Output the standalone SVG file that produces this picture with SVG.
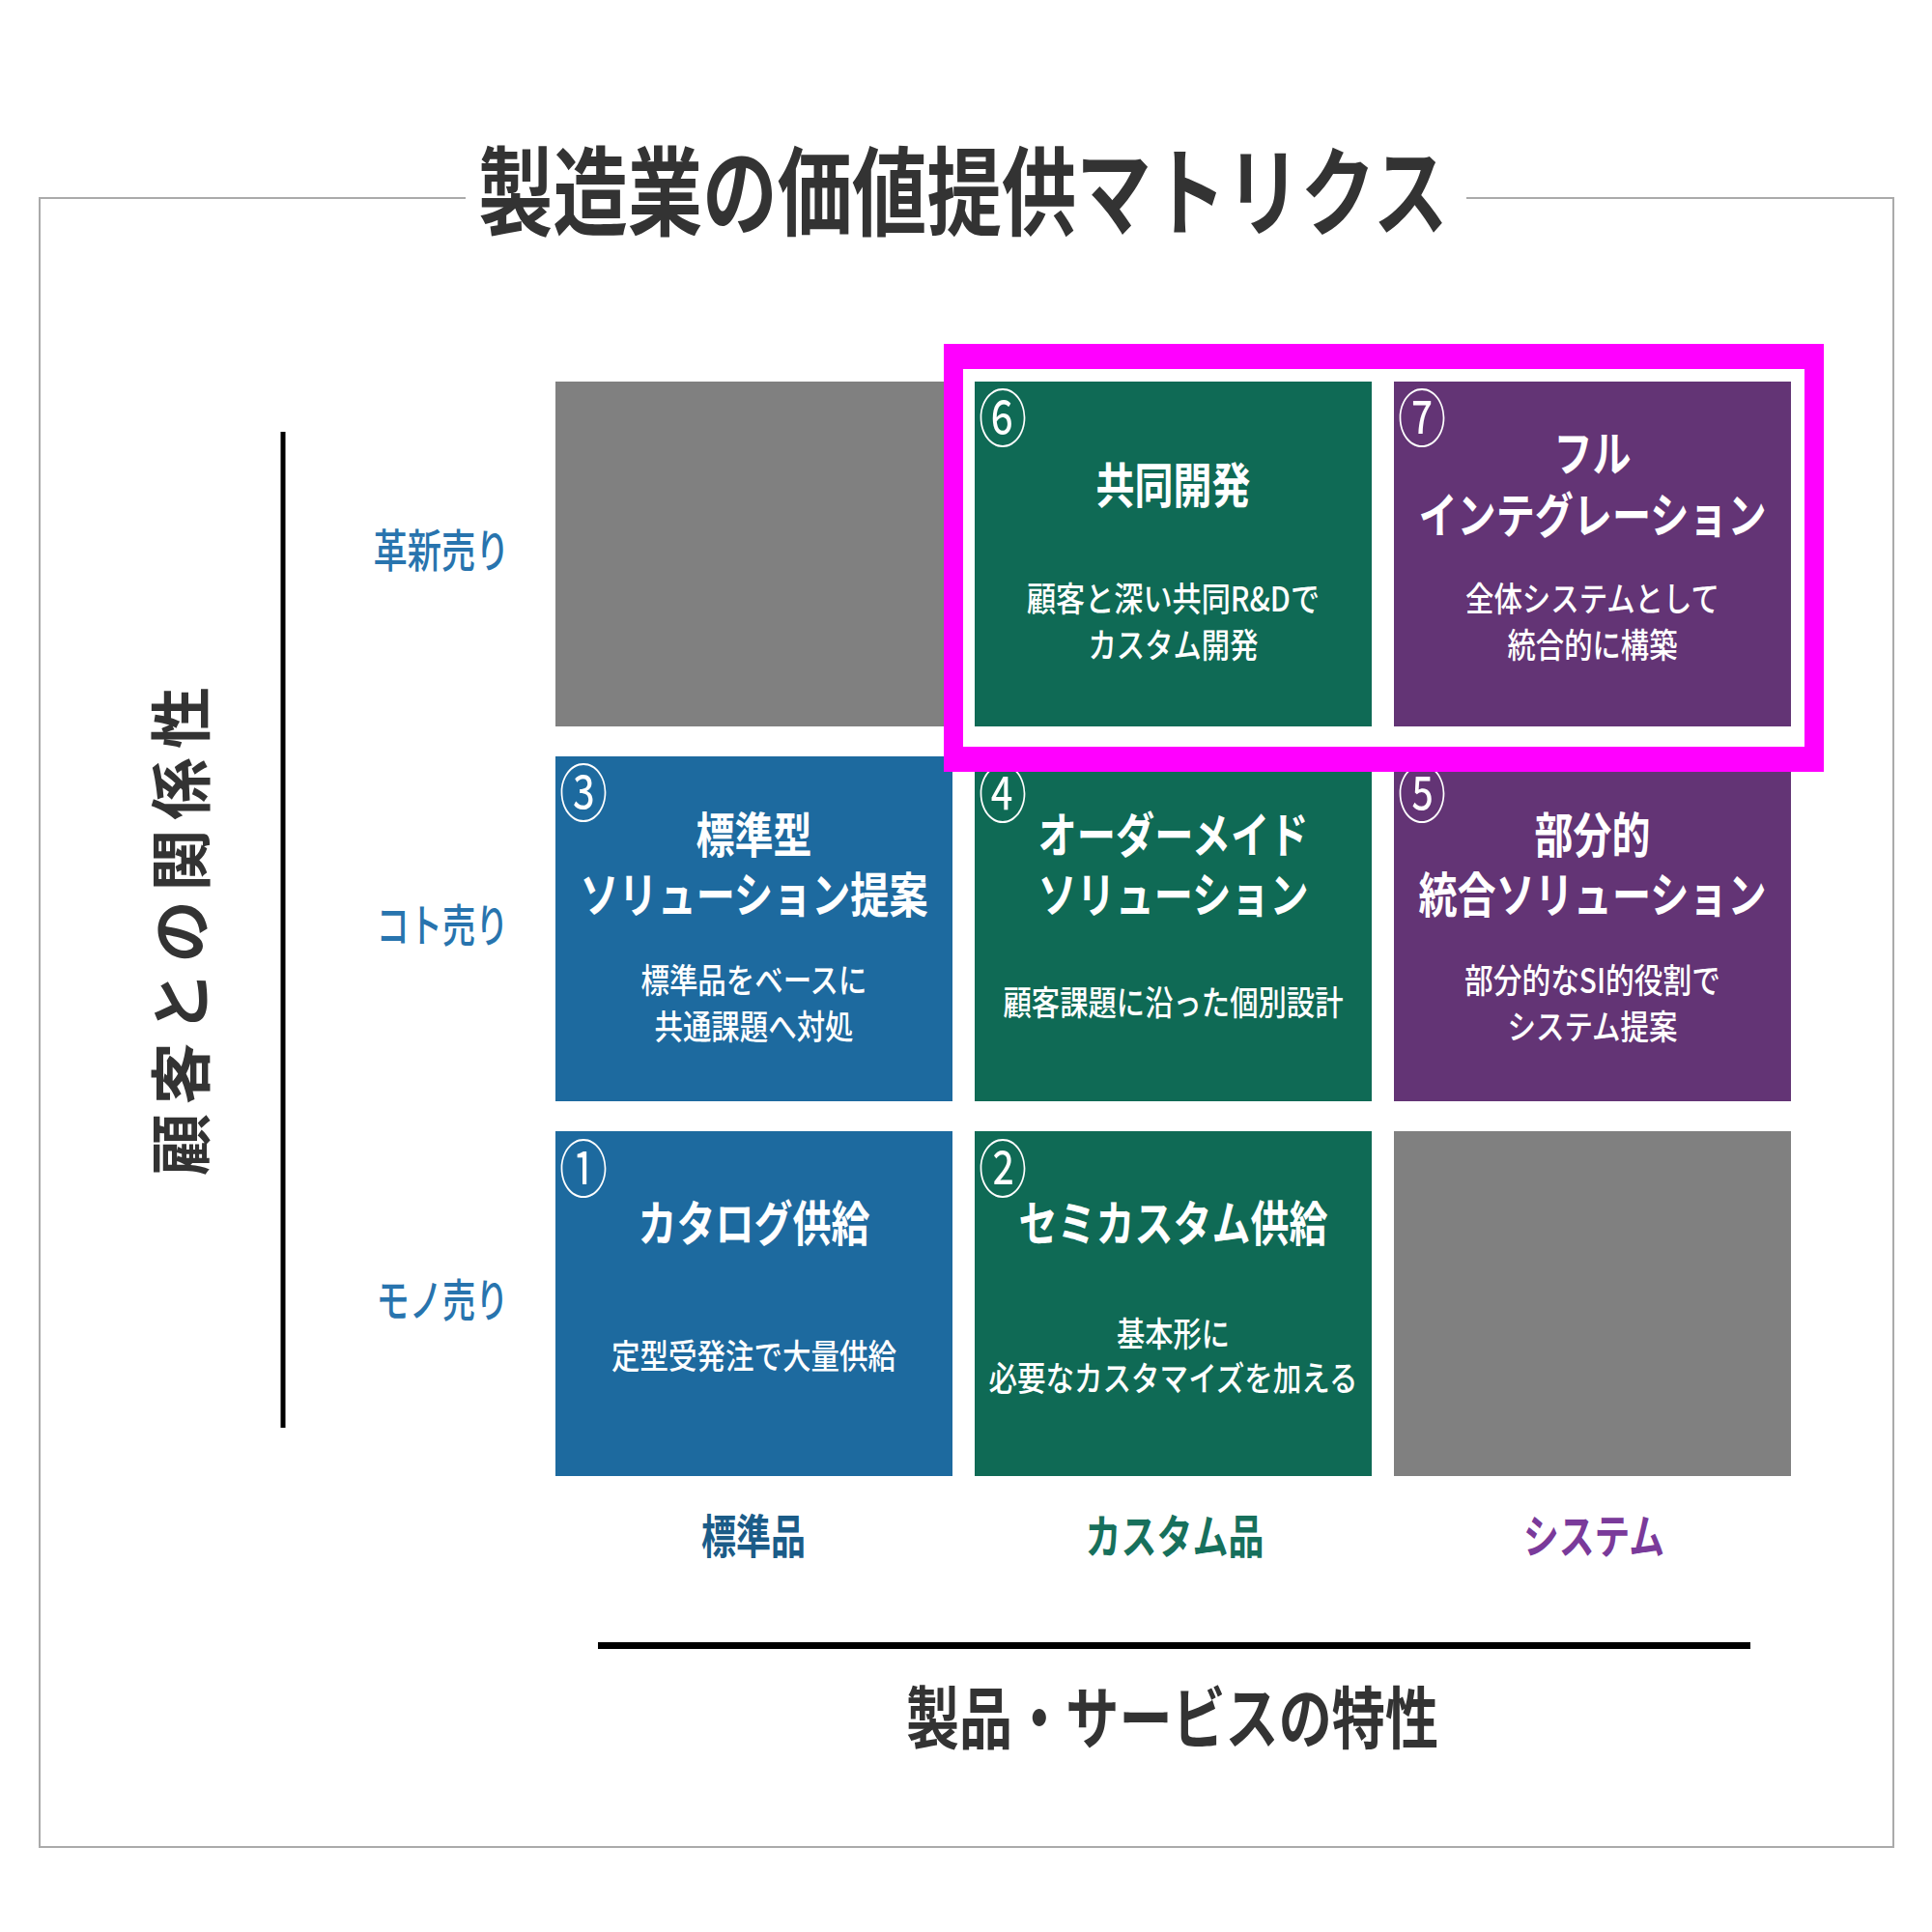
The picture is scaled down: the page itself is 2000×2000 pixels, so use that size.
<svg xmlns="http://www.w3.org/2000/svg" width="2000" height="2000" viewBox="0 0 2000 2000">
<style>
.jp{font-family:"Noto Sans CJK JP","Noto Sans CJK SC",sans-serif;}
.ttl{font-size:100px;font-weight:700;fill:#333333;}
.axt{font-size:70px;font-weight:700;fill:#333333;}
.axl{font-size:64px;font-weight:700;fill:#333333;}
.row{font-size:47px;font-weight:500;fill:#2874AE;}
.colb{font-size:48px;font-weight:700;}
.hd{font-size:50px;font-weight:700;fill:#ffffff;text-anchor:middle;}
.sb{font-size:35px;font-weight:500;fill:#ffffff;text-anchor:middle;}
.num{font-size:65px;font-weight:400;fill:#ffffff;}
.blue{fill:#1D6A9F;}
.green{fill:#0F6A55;}
.purple{fill:#633475;}
.gray{fill:#808080;}
</style>
<rect x="0" y="0" width="2000" height="2000" fill="#ffffff"/>
<g id="frame">
<polyline points="482,205 41,205 41,1912 1960,1912 1960,205 1518,205" fill="none" stroke="#aaaaaa" stroke-width="2"/>
</g>
<g id="title">
<text class="jp ttl" x="997" y="236" text-anchor="middle" textLength="1004" lengthAdjust="spacingAndGlyphs">製造業の価値提供マトリクス</text>
</g>
<g id="axes">
<line x1="293" y1="447" x2="293" y2="1478" stroke="#000000" stroke-width="5"/>
<line x1="619" y1="1703.5" x2="1812" y2="1703.5" stroke="#000000" stroke-width="7"/>
</g>
<g id="y-axis-title">
<text class="jp axl" transform="translate(211,964) rotate(-90)" x="0" y="0" text-anchor="middle" textLength="506" lengthAdjust="spacing">顧客との関係性</text>
</g>
<g id="x-axis-title">
<text class="jp axt" x="938" y="1805" textLength="551" lengthAdjust="spacingAndGlyphs">製品・サービスの特性</text>
</g>
<g id="row-labels">
<text class="jp row" x="457" y="587" text-anchor="middle" textLength="141" lengthAdjust="spacingAndGlyphs">革新売り</text>
<text class="jp row" x="458" y="975" text-anchor="middle" textLength="137" lengthAdjust="spacingAndGlyphs">コト売り</text>
<text class="jp row" x="458" y="1363" text-anchor="middle" textLength="137" lengthAdjust="spacingAndGlyphs">モノ売り</text>
</g>
<g id="col-labels">
<text class="jp colb" x="780" y="1608" text-anchor="middle" fill="#1B5C88" textLength="108" lengthAdjust="spacingAndGlyphs">標準品</text>
<text class="jp colb" x="1216" y="1608" text-anchor="middle" fill="#17705C" textLength="185" lengthAdjust="spacingAndGlyphs">カスタム品</text>
<text class="jp colb" x="1650" y="1608" text-anchor="middle" fill="#7A3A9A" textLength="146" lengthAdjust="spacingAndGlyphs">システム</text>
</g>
<g id="cell-empty-top">
<rect class="gray" x="575" y="395" width="411" height="357"/>
</g>
<g id="cell-empty-bottom">
<rect class="gray" x="1443" y="1171" width="411" height="357"/>
</g>
<g id="node-1">
<rect class="blue" x="575" y="1171" width="411" height="357"/>
<text class="jp num" x="579" y="1234" textLength="50" lengthAdjust="spacingAndGlyphs">①</text>
<text class="jp hd" x="780.5" y="1285" textLength="240" lengthAdjust="spacingAndGlyphs">カタログ供給</text>
<text class="jp sb" x="780.5" y="1417" textLength="295" lengthAdjust="spacingAndGlyphs">定型受発注で大量供給</text>
</g>
<g id="node-2">
<rect class="green" x="1009" y="1171" width="411" height="357"/>
<text class="jp num" x="1013" y="1234" textLength="50" lengthAdjust="spacingAndGlyphs">②</text>
<text class="jp hd" x="1214.5" y="1285" textLength="320" lengthAdjust="spacingAndGlyphs">セミカスタム供給</text>
<text class="jp sb" x="1214.5" y="1394" textLength="117" lengthAdjust="spacingAndGlyphs">基本形に</text>
<text class="jp sb" x="1214.5" y="1440" textLength="382" lengthAdjust="spacingAndGlyphs">必要なカスタマイズを加える</text>
</g>
<g id="node-3">
<rect class="blue" x="575" y="783" width="411" height="357"/>
<text class="jp num" x="579" y="845" textLength="50" lengthAdjust="spacingAndGlyphs">③</text>
<text class="jp hd" x="780.5" y="883" textLength="120" lengthAdjust="spacingAndGlyphs">標準型</text>
<text class="jp hd" x="780.5" y="945" textLength="360" lengthAdjust="spacingAndGlyphs">ソリューション提案</text>
<text class="jp sb" x="780.5" y="1028" textLength="234" lengthAdjust="spacingAndGlyphs">標準品をベースに</text>
<text class="jp sb" x="780.5" y="1076" textLength="206" lengthAdjust="spacingAndGlyphs">共通課題へ対処</text>
</g>
<g id="node-4">
<rect class="green" x="1009" y="783" width="411" height="357"/>
<text class="jp num" x="1013" y="846" textLength="50" lengthAdjust="spacingAndGlyphs">④</text>
<text class="jp hd" x="1214.5" y="883" textLength="280" lengthAdjust="spacingAndGlyphs">オーダーメイド</text>
<text class="jp hd" x="1214.5" y="945" textLength="280" lengthAdjust="spacingAndGlyphs">ソリューション</text>
<text class="jp sb" x="1214.5" y="1051" textLength="352" lengthAdjust="spacingAndGlyphs">顧客課題に沿った個別設計</text>
</g>
<g id="node-5">
<rect class="purple" x="1443" y="783" width="411" height="357"/>
<text class="jp num" x="1447" y="846" textLength="50" lengthAdjust="spacingAndGlyphs">⑤</text>
<text class="jp hd" x="1648.5" y="883" textLength="120" lengthAdjust="spacingAndGlyphs">部分的</text>
<text class="jp hd" x="1648.5" y="945" textLength="360" lengthAdjust="spacingAndGlyphs">統合ソリューション</text>
<text class="jp sb" x="1648.5" y="1028" textLength="265" lengthAdjust="spacingAndGlyphs">部分的なSI的役割で</text>
<text class="jp sb" x="1648.5" y="1076" textLength="176" lengthAdjust="spacingAndGlyphs">システム提案</text>
</g>
<g id="node-6">
<rect class="green" x="1009" y="395" width="411" height="357"/>
<text class="jp num" x="1013" y="457" textLength="50" lengthAdjust="spacingAndGlyphs">⑥</text>
<text class="jp hd" x="1214.5" y="521" textLength="160" lengthAdjust="spacingAndGlyphs">共同開発</text>
<text class="jp sb" x="1214.5" y="633" textLength="303" lengthAdjust="spacingAndGlyphs">顧客と深い共同R&amp;Dで</text>
<text class="jp sb" x="1214.5" y="681" textLength="176" lengthAdjust="spacingAndGlyphs">カスタム開発</text>
</g>
<g id="node-7">
<rect class="purple" x="1443" y="395" width="411" height="357"/>
<text class="jp num" x="1447" y="457" textLength="50" lengthAdjust="spacingAndGlyphs">⑦</text>
<text class="jp hd" x="1648.5" y="488" textLength="80" lengthAdjust="spacingAndGlyphs">フル</text>
<text class="jp hd" x="1648.5" y="552" textLength="360" lengthAdjust="spacingAndGlyphs">インテグレーション</text>
<text class="jp sb" x="1648.5" y="633" textLength="263" lengthAdjust="spacingAndGlyphs">全体システムとして</text>
<text class="jp sb" x="1648.5" y="681" textLength="176" lengthAdjust="spacingAndGlyphs">統合的に構築</text>
</g>
<g id="highlight">
<path d="M977,356 H1888 V799 H977 Z M997,382 V773 H1868 V382 Z" fill="#FF00FF" fill-rule="evenodd"/>
</g>
</svg>
